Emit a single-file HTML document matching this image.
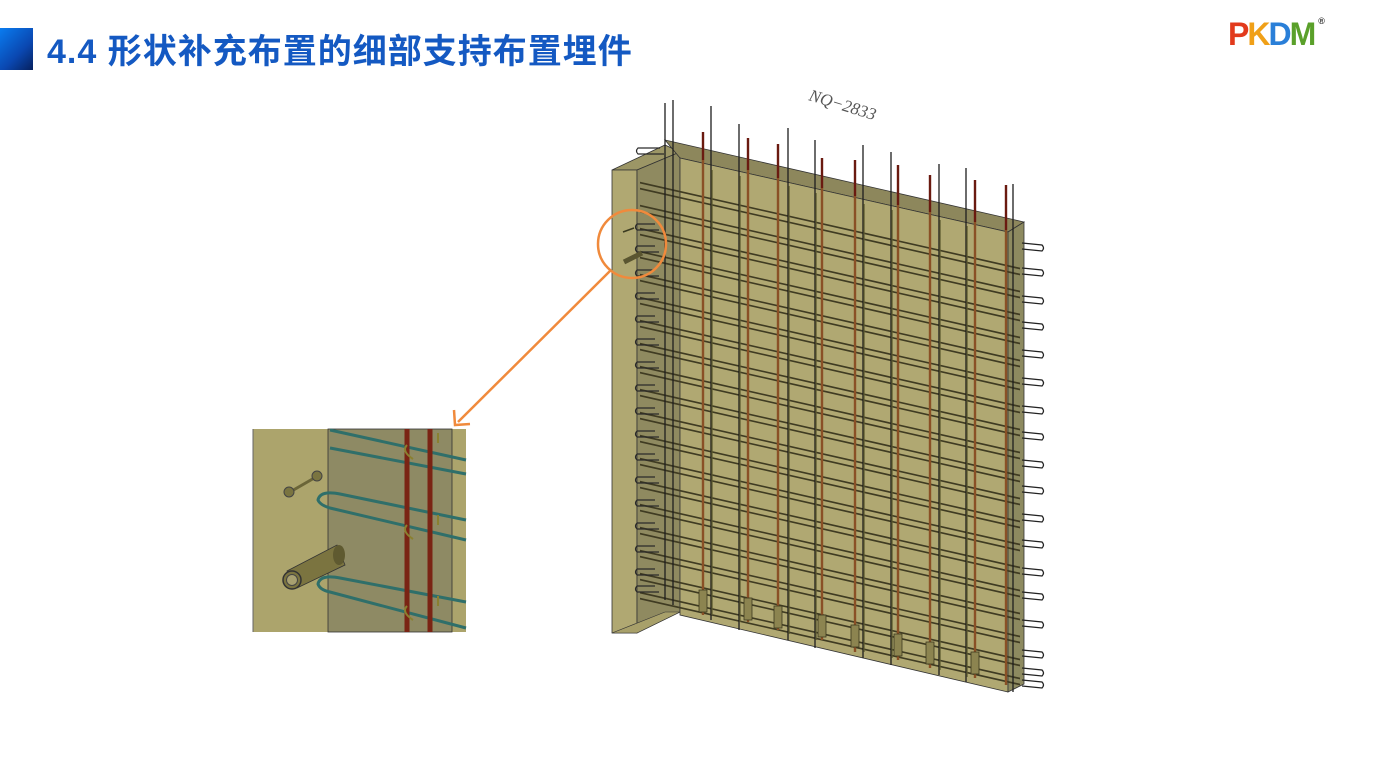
<!DOCTYPE html>
<html><head><meta charset="utf-8"><style>
html,body{margin:0;padding:0;background:#fff;}
body{width:1377px;height:773px;position:relative;overflow:hidden;font-family:"Liberation Sans","Noto Sans CJK SC",sans-serif;}
.bar{position:absolute;left:0;top:28px;width:33px;height:42px;background:linear-gradient(135deg,#0a7cf0,#0a47b0 60%,#06205e);}
.title{position:absolute;left:47px;top:24px;font-size:34px;font-weight:bold;color:#1459c2;letter-spacing:1px;white-space:nowrap;}
.logo{position:absolute;left:1228px;top:16px;font-size:32px;font-weight:900;font-family:"Liberation Sans",sans-serif;letter-spacing:-2px;}
</style></head><body>
<div class="bar"></div>
<div class="title">4.4 形状补充布置的细部支持布置埋件</div>
<div class="logo"><span style="color:#e23a1c">P</span><span style="color:#f0a018">K</span><span style="color:#2a7fd8">D</span><span style="color:#5aa02a">M</span><sup style="font-size:9px;color:#333;vertical-align:top;margin-left:4px">®</sup></div>

<svg width="1377" height="773" style="position:absolute;left:0;top:0" xmlns="http://www.w3.org/2000/svg">
<polygon points="612,170 665,145 680,152 637,170" fill="#9c9666" stroke="#333" stroke-width="0.8"/>
<polygon points="612,170 637,170 637,633 612,633" fill="#b0a872" stroke="#333" stroke-width="0.8"/>
<polygon points="637,170 680,152 680,612 637,633" fill="#8f8a60" stroke="#333" stroke-width="0.8"/>
<polygon points="612,633 637,633 680,612 665,612" fill="#a8a06a" stroke="#333" stroke-width="0.6"/>
<polygon points="665,140 1024,222 1008,232 680,158" fill="#8d875c" stroke="#333" stroke-width="0.8"/>
<polygon points="680,158 1008,232 1008,692 680,615" fill="#b0a872" stroke="#333" stroke-width="0.8"/>
<polygon points="1008,232 1024,222 1024,684 1008,692" fill="#8d8a60" stroke="#333" stroke-width="0.8"/>

<g transform="matrix(1,0.226,0,1,0,0)" stroke="#3f3b22" stroke-width="1.7" fill="none">
<path d="M640 38H1020M640 44H1020M640 61H1020M640 67H1020M640 84H1020M640 90H1020M640 107H1020M640 113H1020M640 130H1020M640 136H1020M640 153H1020M640 159H1020M640 176H1020M640 182H1020M640 199H1020M640 205H1020M640 222H1020M640 228H1020M640 245H1020M640 251H1020M640 268H1020M640 274H1020M640 291H1020M640 297H1020M640 314H1020M640 320H1020M640 337H1020M640 343H1020M640 360H1020M640 366H1020M640 383H1020M640 389H1020M640 406H1020M640 412H1020M640 429H1020M640 435H1020M640 448H1020M640 454H1020"/>
</g>
<g stroke="#2a2a2a" stroke-width="1.2" fill="none">
<path d="M655 224h-18q-3 3 0 6h22M655 246h-18q-3 3 0 6h22M655 270h-18q-3 3 0 6h22M655 293h-18q-3 3 0 6h22M655 316h-18q-3 3 0 6h22M655 339h-18q-3 3 0 6h22M655 362h-18q-3 3 0 6h22M655 385h-18q-3 3 0 6h22M655 408h-18q-3 3 0 6h22M655 431h-18q-3 3 0 6h22M655 454h-18q-3 3 0 6h22M655 477h-18q-3 3 0 6h22M655 500h-18q-3 3 0 6h22M655 523h-18q-3 3 0 6h22M655 546h-18q-3 3 0 6h22M655 569h-18q-3 3 0 6h22M655 586h-18q-3 3 0 6h22"/>
<path d="M660 148h-22q-3 3 0 6h26"/>
</g>
<g stroke="#222" stroke-width="1.3" fill="none">
<path d="M1022 243l20 2q3 3 0 6l-20 -2M1022 268l20 2q3 3 0 6l-20 -2M1022 296l20 2q3 3 0 6l-20 -2M1022 322l20 2q3 3 0 6l-20 -2M1022 350l20 2q3 3 0 6l-20 -2M1022 378l20 2q3 3 0 6l-20 -2M1022 406l20 2q3 3 0 6l-20 -2M1022 432l20 2q3 3 0 6l-20 -2M1022 460l20 2q3 3 0 6l-20 -2M1022 486l20 2q3 3 0 6l-20 -2M1022 514l20 2q3 3 0 6l-20 -2M1022 540l20 2q3 3 0 6l-20 -2M1022 568l20 2q3 3 0 6l-20 -2M1022 592l20 2q3 3 0 6l-20 -2M1022 620l20 2q3 3 0 6l-20 -2M1022 650l20 2q3 3 0 6l-20 -2M1022 668l20 2q3 3 0 6l-20 -2M1022 680l20 2q3 3 0 6l-20 -2"/>
</g>
<g stroke="#1e1e1e" stroke-width="1.3">
<line x1="665" y1="103" x2="665" y2="600"/><line x1="673" y1="100" x2="673" y2="605"/>
<line x1="711" y1="106" x2="711" y2="620"/><line x1="739" y1="124" x2="739" y2="630"/>
<line x1="788" y1="128" x2="788" y2="640"/><line x1="815" y1="140" x2="815" y2="648"/>
<line x1="863" y1="145" x2="863" y2="658"/><line x1="891" y1="152" x2="891" y2="665"/>
<line x1="939" y1="164" x2="939" y2="675"/><line x1="966" y1="168" x2="966" y2="682"/>
<line x1="1013" y1="184" x2="1013" y2="692"/>
</g>
<g stroke="#5d5a30" stroke-width="1.3">
<line x1="712" y1="170" x2="712" y2="615"/><line x1="740" y1="176" x2="740" y2="622"/>
<line x1="789" y1="186" x2="789" y2="634"/><line x1="816" y1="193" x2="816" y2="640"/>
<line x1="864" y1="204" x2="864" y2="652"/><line x1="892" y1="210" x2="892" y2="658"/>
<line x1="940" y1="220" x2="940" y2="670"/><line x1="967" y1="226" x2="967" y2="677"/>
</g>
<g stroke-width="2.4">
<g stroke="#6a1a10"><line x1="703" y1="132" x2="703" y2="160"/><line x1="748" y1="138" x2="748" y2="170"/><line x1="778" y1="144" x2="778" y2="178"/><line x1="822" y1="158" x2="822" y2="188"/><line x1="855" y1="160" x2="855" y2="196"/><line x1="898" y1="165" x2="898" y2="205"/><line x1="930" y1="175" x2="930" y2="212"/><line x1="975" y1="180" x2="975" y2="222"/><line x1="1006" y1="185" x2="1006" y2="230"/></g>
<g stroke="#8a5026"><line x1="703" y1="160" x2="703" y2="615"/><line x1="748" y1="170" x2="748" y2="622"/><line x1="778" y1="178" x2="778" y2="630"/><line x1="822" y1="188" x2="822" y2="640"/><line x1="855" y1="196" x2="855" y2="652"/><line x1="898" y1="205" x2="898" y2="660"/><line x1="930" y1="212" x2="930" y2="668"/><line x1="975" y1="222" x2="975" y2="678"/><line x1="1006" y1="230" x2="1006" y2="685"/></g>
</g>
<g fill="#8c8450" stroke="#3d3a20" stroke-width="0.8">
<rect x="699" y="590" width="8" height="22"/><rect x="744" y="598" width="8" height="22"/><rect x="774" y="606" width="8" height="22"/><rect x="818" y="615" width="8" height="22"/><rect x="851" y="625" width="8" height="22"/><rect x="894" y="634" width="8" height="22"/><rect x="926" y="642" width="8" height="22"/><rect x="971" y="652" width="8" height="22"/>
</g>
<line x1="623" y1="232" x2="634" y2="228" stroke="#3a3a20" stroke-width="1.5"/>
<line x1="624" y1="262" x2="642" y2="253" stroke="#5a5530" stroke-width="5"/>
<text x="0" y="0" transform="translate(808,100) rotate(17)" font-family="Liberation Serif,serif" font-style="italic" font-size="17" fill="#555">NQ−2833</text>
<circle cx="632" cy="244" r="34" fill="none" stroke="#f08a3c" stroke-width="2.5"/>
<line x1="611" y1="270" x2="458" y2="422" stroke="#f08a3c" stroke-width="2.5"/>
<polyline points="454,410 455,425 470,424" fill="none" stroke="#f08a3c" stroke-width="2.5"/>

<g>
<rect x="253" y="429" width="213" height="203" fill="#aca46c"/>
<rect x="328" y="429" width="124" height="203" fill="#8e8a64" stroke="#333" stroke-width="0.8"/>
<line x1="253" y1="429" x2="253" y2="632" stroke="#666" stroke-width="1"/>
<g stroke="#2f6f6a" stroke-width="3" fill="none">
<path d="M330 430L466 460M330 448L466 474"/>
<path d="M466 520L340 494Q320 490 318 500Q320 505 330 508L466 540"/>
<path d="M466 602L340 578Q320 574 318 584Q320 590 330 592L466 628"/>
</g>
<g stroke="#7a2414" stroke-width="5"><line x1="407" y1="429" x2="407" y2="632"/><line x1="430" y1="429" x2="430" y2="632"/></g>
<g stroke="#8a8030" stroke-width="2" fill="none">
<path d="M407 445q-6 6 6 14"/><path d="M407 525q-6 6 6 14"/><path d="M407 606q-6 6 6 14"/>
<path d="M438 433v10M438 515v10M438 596v10"/>
</g>
<line x1="290" y1="492" x2="316" y2="477" stroke="#6b6538" stroke-width="3"/>
<circle cx="289" cy="492" r="5" fill="#7a7440" stroke="#444"/>
<circle cx="317" cy="476" r="5" fill="#7a7440" stroke="#444"/>
<polygon points="287,571 337,545 345,565 297,588" fill="#7b7440" stroke="#333" stroke-width="0.8"/>
<ellipse cx="339" cy="555" rx="6" ry="10" fill="#5f5a30"/>
<circle cx="292" cy="580" r="9" fill="#7b7440" stroke="#333" stroke-width="1.5"/>
<circle cx="292" cy="580" r="5.5" fill="#a8a070" stroke="#444"/>
</g>
</svg>
</body></html>
